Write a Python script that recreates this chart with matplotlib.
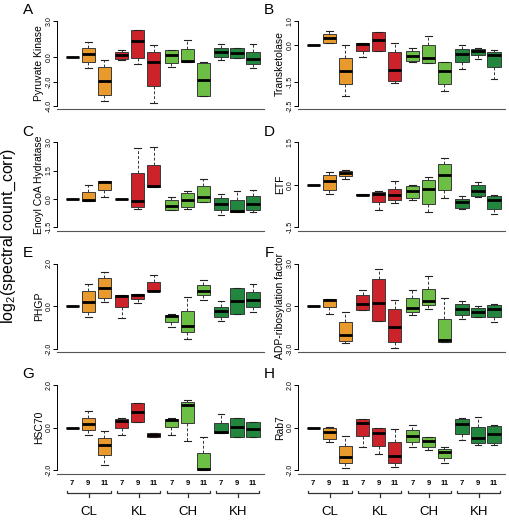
#!/usr/bin/env python3
"""Boxplots of log2 spectral counts for eight proteins, by condition and time."""

import matplotlib

matplotlib.use("Agg")
import matplotlib.pyplot as plt
from matplotlib.transforms import blended_transform_factory

plt.rcParams["font.family"] = ["Liberation Sans", "DejaVu Sans"]
plt.rcParams["axes.unicode_minus"] = False
plt.rcParams["mathtext.fontset"] = "custom"
plt.rcParams["mathtext.rm"] = "Liberation Sans"

GROUPS = ["CL", "KL", "CH", "KH"]
TIMES = ["7", "9", "11"]
GROUP_COLORS = ["#E99A2C", "#CC2229", "#6DBE45", "#23863F"]

# one (whisker low, q1, median, q3, whisker high) per box, CL7..KH11
PYRUVATE_KINASE = [
    (0, 0, 0, 0, 0), (-0.85, -0.36, 0.30, 0.79, 1.23), (-3.55, -3.06, -1.97, -0.79, -0.19),
    (-0.25, -0.11, 0.19, 0.41, 0.63), (-0.55, -0.05, 1.37, 2.27, 2.27), (-3.77, -2.32, -0.41, 0.44, 0.98),
    (-0.82, -0.49, 0.16, 0.60, 0.63), (-0.41, -0.41, -0.30, 0.66, 1.45), (-3.14, -3.14, -1.83, -0.49, -0.36),
    (-0.25, 0.0, 0.44, 0.79, 1.07), (-0.08, -0.03, 0.38, 0.79, 0.79), (-0.85, -0.57, -0.16, 0.46, 1.07),
]
TRANSKETOLASE = [
    (0, 0, 0, 0, 0), (0.07, 0.10, 0.28, 0.47, 0.59), (-2.09, -1.60, -1.07, -0.53, 0.0),
    (-0.48, -0.26, 0.04, 0.10, 0.10), (-0.24, -0.24, 0.21, 0.55, 0.55), (-1.56, -1.48, -1.01, -0.29, 0.07),
    (-0.71, -0.66, -0.43, -0.24, -0.11), (-0.73, -0.73, -0.53, 0.0, 0.39), (-1.87, -1.60, -1.05, -0.69, -0.69),
    (-0.98, -0.68, -0.35, -0.18, 0.0), (-0.59, -0.40, -0.25, -0.18, -0.14), (-1.40, -0.90, -0.39, -0.30, -0.21),
]
ENOYL_COA = [
    (0, 0, 0, 0, 0), (-0.11, -0.11, -0.07, 0.39, 0.74), (0.11, 0.46, 0.89, 0.96, 0.96),
    (0, 0, 0, 0, 0), (-0.51, -0.42, -0.11, 1.37, 2.70), (0.65, 0.65, 0.68, 1.77, 2.74),
    (-0.56, -0.56, -0.35, -0.07, 0.09), (-0.51, -0.42, -0.05, 0.32, 0.40), (-0.16, -0.16, 0.12, 0.70, 1.05),
    (-0.82, -0.60, -0.28, 0.05, 0.28), (-0.68, -0.68, -0.61, -0.04, 0.42), (-0.70, -0.56, -0.28, 0.14, 0.49),
]
ETF = [
    (0, 0, 0, 0, 0), (-0.34, -0.18, 0.14, 0.35, 0.46), (0.20, 0.32, 0.43, 0.50, 0.53),
    (-0.37, -0.37, -0.35, -0.33, -0.33), (-0.88, -0.61, -0.32, -0.26, -0.21), (-0.64, -0.53, -0.36, -0.14, 0.12),
    (-0.52, -0.46, -0.21, -0.04, -0.02), (-0.95, -0.67, -0.14, 0.18, 0.27), (-0.47, -0.18, 0.34, 0.74, 0.94),
    (-0.87, -0.81, -0.61, -0.49, -0.41), (-0.43, -0.40, -0.21, -0.02, 0.08), (-1.04, -0.84, -0.52, -0.38, -0.35),
]
PHGP = [
    (0, 0, 0, 0, 0), (-0.53, -0.27, 0.20, 0.70, 1.06), (0.19, 0.36, 0.83, 1.34, 1.58),
    (-0.55, -0.06, 0.47, 0.52, 0.52), (0.16, 0.34, 0.52, 0.59, 0.59), (0.70, 0.70, 0.72, 1.11, 1.48),
    (-1.00, -0.73, -0.47, -0.42, -0.37), (-1.52, -1.22, -0.91, -0.22, 0.44), (0.31, 0.50, 0.72, 0.98, 1.22),
    (-0.70, -0.50, -0.25, -0.03, 0.22), (-0.38, -0.38, 0.23, 0.83, 0.83), (-0.27, -0.03, 0.28, 0.67, 1.06),
]
ADP_RIBOSYLATION = [
    (0, 0, 0, 0, 0), (-0.56, -0.09, 0.45, 0.50, 0.50), (-2.60, -2.48, -2.05, -1.11, -0.43),
    (-0.25, -0.25, 0.14, 0.77, 1.11), (-1.02, -1.02, 0.23, 1.92, 2.64), (-2.91, -2.51, -1.47, -0.18, 0.43),
    (-0.63, -0.41, -0.14, 0.56, 1.17), (-0.18, 0.11, 0.38, 1.22, 2.12), (-2.51, -2.51, -2.37, -0.90, 0.56),
    (-0.93, -0.65, -0.18, 0.16, 0.34), (-0.79, -0.74, -0.41, -0.11, 0.02), (-1.13, -0.79, -0.20, 0.09, 0.14),
]
HSC70 = [
    (0, 0, 0, 0, 0), (-0.33, -0.11, 0.16, 0.47, 0.77), (-1.78, -1.31, -0.81, -0.47, -0.17),
    (-0.33, 0.0, 0.33, 0.41, 0.45), (0.25, 0.25, 0.72, 1.16, 1.16), (-0.42, -0.42, -0.34, -0.25, -0.25),
    (-0.33, 0.02, 0.36, 0.41, 0.45), (-0.63, 0.22, 1.06, 1.19, 1.30), (-1.97, -1.97, -1.94, -1.19, -0.45),
    (-0.25, -0.25, -0.19, 0.22, 0.63), (-0.42, -0.42, 0.03, 0.45, 0.45), (-0.42, -0.42, -0.06, 0.28, 0.28),
]
RAB7 = [
    (0, 0, 0, 0, 0), (-0.69, -0.53, -0.20, -0.02, 0.02), (-1.89, -1.67, -1.38, -0.86, -0.38),
    (-0.92, -0.39, 0.20, 0.38, 0.41), (-1.22, -0.86, -0.27, -0.02, -0.02), (-1.83, -1.67, -1.33, -0.67, -0.09),
    (-0.89, -0.69, -0.38, -0.12, 0.12), (-1.05, -0.91, -0.62, -0.45, -0.42), (-1.66, -1.42, -1.17, -1.02, -0.91),
    (-0.59, -0.30, 0.17, 0.39, 0.45), (-0.81, -0.73, -0.48, 0.03, 0.48), (-0.80, -0.72, -0.30, 0.09, 0.12),
]

PANEL_LETTERS = ["A", "B", "C", "D", "E", "F", "G", "H"]
PANEL_NAMES = ["Pyruvate Kinase", "Transketolase", "Enoyl CoA Hydratase", "ETF",
               "PHGP", "ADP-ribosylation factor", "HSC70", "Rab7"]
PANEL_DATA = [PYRUVATE_KINASE, TRANSKETOLASE, ENOYL_COA, ETF, PHGP, ADP_RIBOSYLATION, HSC70, RAB7]
PANEL_TICKS = [
    [3.0, 0.0, -2.0, -4.0], [1.0, 0.0, -1.5, -2.5], [3.0, 1.5, 0.0, -1.5], [1.5, 0.0, -1.5],
    [2.0, 0.0, -2.0], [3.0, 0.0, -3.0], [2.0, 0.0, -2.0], [2.0, 0.0, -2.0],
]

W, H = 510, 520
COL_X = [56.7, 297.7]
ROW_TOP = [17.3, 138.7, 260.1, 381.5]
AX_W, AX_H = 207, 92.1
GROUP_GAP = 0.1

positions = [g * (3 + GROUP_GAP) + t + 1 for g in range(len(GROUPS)) for t in range(len(TIMES))]
colors = [c for c in GROUP_COLORS for _ in TIMES]
xlabels = TIMES * len(GROUPS)

fig = plt.figure(figsize=(W / 100, H / 100), dpi=100)

for idx, (letter, name, data, ticks) in enumerate(zip(PANEL_LETTERS, PANEL_NAMES, PANEL_DATA, PANEL_TICKS)):
    row, col = divmod(idx, 2)
    x0, top = COL_X[col], ROW_TOP[row]
    ax = fig.add_axes([x0 / W, 1 - (top + AX_H) / H, AX_W / W, AX_H / H])

    stats = [dict(whislo=lo, q1=q1, med=med, q3=q3, whishi=hi) for lo, q1, med, q3, hi in data]
    bp = ax.bxp(
        stats, positions=positions, widths=0.82, capwidths=0.42, patch_artist=True, showfliers=False,
        boxprops=dict(edgecolor="#3a3a3a", linewidth=0.7),
        whiskerprops=dict(color="#333333", linewidth=0.7, linestyle=(0, (3, 2))),
        capprops=dict(color="#222222", linewidth=0.8),
        medianprops=dict(color="black", linewidth=2.0, solid_capstyle="butt"),
    )
    for patch, c in zip(bp["boxes"], colors):
        patch.set_facecolor(c)

    lo, hi = min(ticks), max(ticks)
    pad = 0.04 * (hi - lo)
    ax.set_ylim(lo - pad, hi + pad)
    ax.set_xlim(0.03, 12.97)
    ax.set_yticks(ticks, [f"{t:.1f}" for t in ticks])
    ax.tick_params(axis="y", length=3, width=0.7, pad=0, labelsize=5.0, labelrotation=90)
    for lab in ax.get_yticklabels():
        lab.set_va("center")

    for side in ("top", "right"):
        ax.spines[side].set_visible(False)
    ax.spines["left"].set_bounds(lo, hi)
    ax.spines["left"].set_linewidth(0.7)
    ax.spines["bottom"].set_color("#555555")
    ax.spines["bottom"].set_linewidth(0.8)

    ax.set_ylabel(name, fontsize=7.5)
    ax.yaxis.set_label_coords(-0.06, 0.5)

    fig.text((x0 - 28.5) / W, 1 - (top - 7) / H, letter, fontsize=11, ha="center", va="center")

    if row == 3:
        ax.set_xticks(positions, xlabels)
        ax.tick_params(axis="x", length=0, pad=4.5, labelsize=5.5)
        for lab in ax.get_xticklabels():
            lab.set_fontweight("bold")
        trans = blended_transform_factory(ax.transData, ax.transAxes)
        for g, group in enumerate(GROUPS):
            left = positions[g * 3] - 0.3
            right = positions[g * 3 + 2] + 0.4
            mid = (left + right) / 2
            ax.plot([left, left, right, right], [-0.189, -0.214, -0.214, -0.189],
                    color="#333333", lw=0.9, transform=trans, clip_on=False)
            ax.plot([mid, mid], [-0.214, -0.249], color="#333333", lw=0.9, transform=trans, clip_on=False)
            ax.text(mid, -0.414, group, fontsize=9.5, ha="center", va="center", transform=trans)
    else:
        ax.set_xticks([])

fig.text(9 / W, 1 - 236 / H, r"log$_{\mathrm{2}}$(spectral count_corr)", rotation=90,
         fontsize=11.5, ha="center", va="center")

fig.savefig("out.png", dpi=100)
